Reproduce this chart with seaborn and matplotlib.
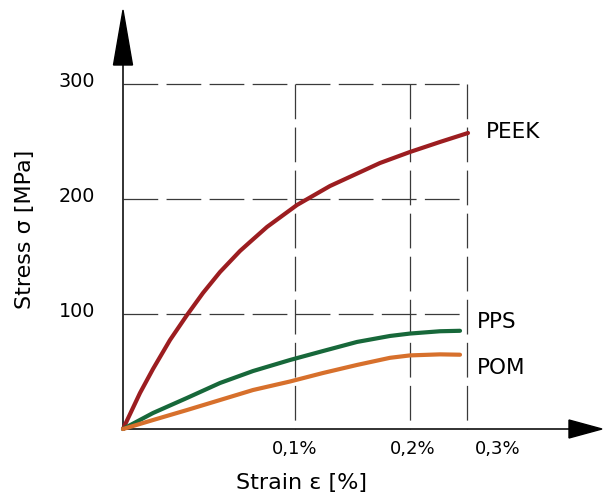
import matplotlib
matplotlib.use("Agg")
import matplotlib.pyplot as plt
from matplotlib.patches import Polygon
import seaborn as sns
import pandas as pd

sns.set_theme(style="white")
plt.rcParams['font.family'] = ['DejaVu Sans']
plt.rcParams['lines.scale_dashes'] = False

# ---- data (strain in chart units where 0.1 = first grid line, stress in MPa)
peek_strain = [0, 0.00988, 0.01744, 0.02733, 0.03721, 0.04651, 0.0564, 0.06802,
               0.07384, 0.08372, 0.10116, 0.12035, 0.14942, 0.16686, 0.1843, 0.20058]
peek_stress = [0, 31.3, 52.2, 77.4, 99.1, 118.3, 136.5, 154.8,
               162.6, 175.7, 194.8, 211.3, 231.3, 240.9, 249.6, 257.4]
pps_strain = [0, 0.01744, 0.03721, 0.0564, 0.07558, 0.09709, 0.11628, 0.13605,
              0.15523, 0.16686, 0.1843, 0.19593]
pps_stress = [0, 13.9, 27.0, 40.0, 50.4, 60.0, 67.8, 75.7, 80.9, 83.0, 85.0, 85.4]
pom_strain = [0, 0.01744, 0.03721, 0.0564, 0.07558, 0.09709, 0.11628, 0.13605,
              0.15523, 0.16686, 0.1843, 0.19593]
pom_stress = [0, 7.8, 16.5, 25.2, 33.9, 41.3, 48.7, 55.7, 61.9, 64.0, 64.9, 64.6]
materials = ["PEEK", "PPS", "POM"]
colors = ["#9c1d20", "#17683a", "#d7702c"]

y_ticks = [100, 200, 300]
y_labels = ["100", "200", "300"]
x_grid = [0.1, 0.1669, 0.2]
x_label_pos = [0.1, 0.1686, 0.218]
x_labels = ["0,1%", "0,2%", "0,3%"]

df = pd.concat([
    pd.DataFrame({"strain": peek_strain, "stress": peek_stress, "material": "PEEK"}),
    pd.DataFrame({"strain": pps_strain, "stress": pps_stress, "material": "PPS"}),
    pd.DataFrame({"strain": pom_strain, "stress": pom_stress, "material": "POM"}),
], ignore_index=True)

fig = plt.figure(figsize=(6.03, 4.95), dpi=100)
ax = fig.add_axes([0, 0, 1, 1])
xmin, xmax = -123 / 1720, (603 - 123) / 1720
ymin, ymax = (429 - 495) / 1.15, 429 / 1.15
ax.set_xlim(xmin, xmax)
ax.set_ylim(ymin, ymax)
ax.axis("off")

gcol = "#3a3a3a"
dash = (0, (25, 6))
xg_end = x_grid[-1]
for yt in y_ticks:
    ax.plot([0, xg_end], [yt, yt], color=gcol, lw=0.9, linestyle=dash, zorder=1)
for xg in x_grid:
    ax.plot([xg, xg], [y_ticks[-1], 0], color=gcol, lw=0.9, linestyle=dash, zorder=1)

sns.lineplot(data=df, x="strain", y="stress", hue="material", hue_order=materials,
             palette=colors, sort=False, lw=3.0, ax=ax, legend=False, zorder=3)
for l in ax.lines[-3:]:
    l.set_solid_capstyle("round")
    l.set_solid_joinstyle("round")

# axes with arrows
ax.plot([0, 0.2593], [0, 0], color="#222222", lw=1.3, zorder=2)
ax.plot([0, 0], [0, 318], color="#222222", lw=1.3, zorder=2)
px = 1 / 1720
py = 1 / 1.15
ax.add_patch(Polygon([[0.2593, 9 * py], [0.2593, -9 * py], [(602 - 123) * px, 0]],
                     closed=True, color="black", zorder=4))
ax.add_patch(Polygon([[-9.5 * px, (429 - 65) * py], [9.5 * px, (429 - 65) * py],
                      [0, (429 - 10) * py]], closed=True, color="black", zorder=4))

for yt, lab in zip(y_ticks, y_labels):
    ax.text(-28 * px, yt + 2.5, lab, ha="right", va="center", fontsize=13.8, color="black")
for xp, lab in zip(x_label_pos, x_labels):
    ax.text(xp, -20 * py, lab, ha="center", va="center", fontsize=13, color="black")

ax.text(0.104, -54 * py, "Strain ε [%]", ha="center", va="center", fontsize=16, color="black")
ax.text(-98 * px, (429 - 229) * py, "Stress σ [MPa]", ha="center", va="center",
        rotation=90, fontsize=16, color="black")

ax.text((486 - 123) * px, (429 - 132) * py, "PEEK", ha="left", va="center",
        fontsize=15.5, color="black")
ax.text((477 - 123) * px, (429 - 322) * py, "PPS", ha="left", va="center",
        fontsize=15.5, color="black")
ax.text((477 - 123) * px, (429 - 368) * py, "POM", ha="left", va="center",
        fontsize=15.5, color="black")

fig.savefig("out.png", dpi=100)
